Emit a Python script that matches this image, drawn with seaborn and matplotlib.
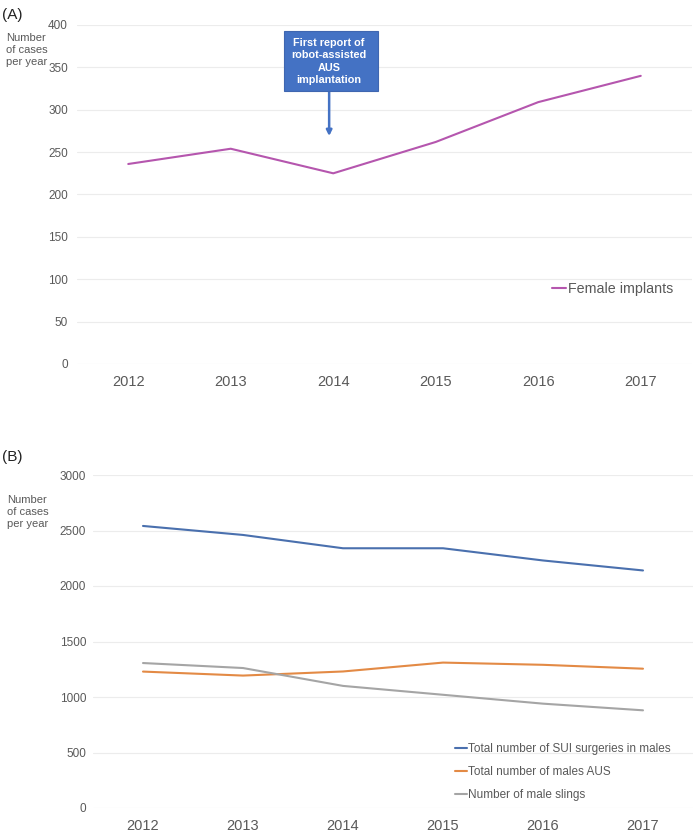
import pandas as pd
import numpy as np
import matplotlib.pyplot as plt
import matplotlib.patches as mpatches
import seaborn as sns

years = [2012, 2013, 2014, 2015, 2016, 2017]
female_implants = [236, 254, 225, 262, 309, 340]
sui_males = [2541, 2460, 2340, 2340, 2230, 2140]
males_aus = [1229, 1193, 1230, 1310, 1290, 1255]
male_slings = [1306, 1261, 1100, 1020, 940, 880]

sns.set_style('white')
plt.rcParams['font.family'] = ['Liberation Sans', 'DejaVu Sans']

df_a = pd.DataFrame({'Year': years, 'Cases': female_implants})
df_b = pd.DataFrame({
    'Year': years * 3,
    'Cases': sui_males + males_aus + male_slings,
    'Series': (['Total number of SUI surgeries in males'] * 6
               + ['Total number of males AUS'] * 6
               + ['Number of male slings'] * 6),
})

fig = plt.figure(figsize=(6.97, 8.35), dpi=100)
W, H = 697, 835
ax1 = fig.add_axes([77 / W, 1 - 364 / H, 615 / W, 339 / H])
ax2 = fig.add_axes([93 / W, 1 - 808 / H, 600 / W, 333 / H])

tick_col = '#595959'
grid_col = '#ececec'

sns.lineplot(data=df_a, x='Year', y='Cases', color='#B556AE', linewidth=1.5,
             ax=ax1, label='Female implants')
ax1.set_ylim(0, 400)
ax1.set_yticks(range(0, 401, 50))

sns.lineplot(data=df_b, x='Year', y='Cases', hue='Series',
             palette=['#4A70AE', '#E38A45', '#A5A5A5'], linewidth=1.5, ax=ax2)
ax2.set_ylim(0, 3000)
ax2.set_yticks(range(0, 3001, 500))

for ax, ypad in ((ax1, 6.5), (ax2, 5)):
    ax.set_xlim(2011.5, 2017.5)
    ax.set_xticks(years)
    ax.set_xlabel('')
    ax.set_ylabel('')
    ax.grid(axis='y', color=grid_col, linewidth=0.8)
    ax.set_axisbelow(True)
    for s in ax.spines.values():
        s.set_visible(False)
    ax.tick_params(axis='x', labelsize=10.5, colors=tick_col, length=0, pad=8)
    ax.tick_params(axis='y', labelsize=8.5, colors=tick_col, length=0, pad=ypad)

ax1.legend(loc='center right', bbox_to_anchor=(0.99, 0.22), frameon=False,
           fontsize=10.3, handlelength=1.0, handletextpad=0.1, labelcolor=tick_col)
ax2.legend(loc='lower right', bbox_to_anchor=(0.98, -0.012), frameon=False,
           fontsize=8.5, handlelength=1.0, handletextpad=0.1, labelspacing=0.95,
           labelcolor=tick_col)

# annotation: blue box with text and downward arrow
box = mpatches.Rectangle((284 / W, 1 - 91 / H), 94 / W, 60 / H,
                         transform=fig.transFigure, fc='#4472C4', ec='#3F66B0',
                         lw=0.8, zorder=5, clip_on=False)
ax1.add_patch(box)
ax1.text(2013.96, 357, 'First report of\nrobot-assisted\nAUS\nimplantation',
         ha='center', va='center', color='white', fontsize=7.8,
         fontweight='bold', linespacing=1.32, zorder=6)
ax1.annotate('', xy=(2013.96, 269), xytext=(2013.96, 323),
             arrowprops=dict(arrowstyle='-|>', color='#4472C4', lw=1.8,
                             mutation_scale=8, shrinkA=0, shrinkB=0))

fig.text(2 / W, 1 - 15 / H, '(A)', fontsize=11, color='#222222', va='center')
fig.text(2 / W, 1 - 457 / H, '(B)', fontsize=11, color='#222222', va='center')
ylab = 'Number\nof cases\nper year'
fig.text(6 / W, 1 - 50 / H, ylab, fontsize=8, color=tick_col, va='center',
         linespacing=1.3)
fig.text(7 / W, 1 - 512 / H, ylab, fontsize=8, color=tick_col, va='center',
         linespacing=1.3)

plt.savefig('out.png', dpi=100)
